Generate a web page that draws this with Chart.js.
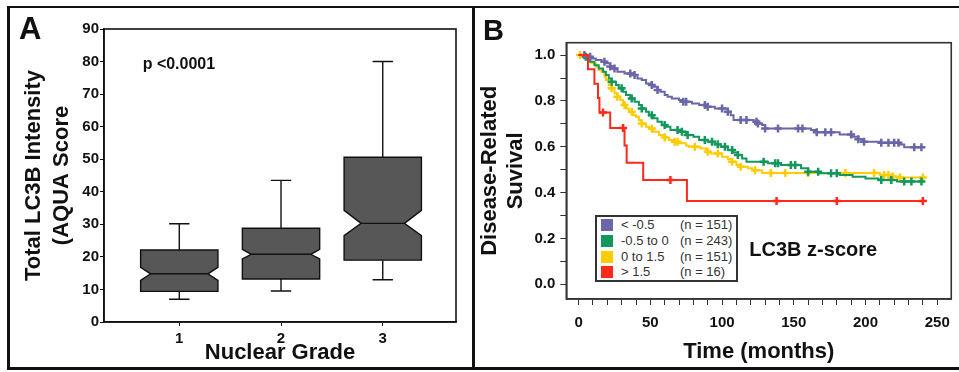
<!DOCTYPE html>
<html>
<head>
<meta charset="utf-8">
<script src="https://cdn.jsdelivr.net/npm/chart.js@4.4.1/dist/chart.umd.min.js"></script>
<style>
  html, body { margin: 0; padding: 0; background: #fff; }
  body { width: 959px; height: 372px; position: relative; overflow: hidden; font-family: "Liberation Sans", Arial, sans-serif; color: #111; }
  .frame { position: absolute; box-sizing: border-box; border: 0 solid #111; }
  #frameA { left: 7px; top: 6px; width: 468px; height: 364px; border-width: 2px 3px 3px 3px; }
  #frameB { left: 475px; top: 6px; width: 484px; height: 364px; border-width: 2px 0 3px 0; }
  canvas { position: absolute; }
  #chartA { left: 10px; top: 9px; }
  #chartB { left: 476px; top: 9px; }
  .letter { position: absolute; font-weight: bold; font-size: 29px; line-height: 1; }
  #legendB { position: absolute; left: 595px; top: 215px; width: 143px; height: 67px; box-sizing: border-box; border: 2px solid #333; background: #fff; }
  #legendB .row { position: relative; height: 15.75px; line-height: 15.75px; font-size: 13px; color: #333; white-space: nowrap; }
  #legendB .sw { position: absolute; left: 4px; top: 2px; width: 12px; height: 12px; }
  #legendB .lab { position: absolute; left: 24px; }
  #legendB .n { position: absolute; left: 83px; }
</style>
</head>
<body>
<div class="frame" id="frameA"></div>
<div class="frame" id="frameB"></div>
<canvas id="chartA" width="461" height="357"></canvas>
<canvas id="chartB" width="483" height="357"></canvas>
<div class="letter" style="left:19px; top:13px; font-size:31px;">A</div>
<div class="letter" style="left:483px; top:16px;">B</div>
<div id="legendB"></div>
<script>
const FONT = '"Liberation Sans", Arial, sans-serif';
const INK = '#111';

// ---- Panel A: total LC3B intensity by nuclear grade ----
const grades = [1, 2, 3];
const whiskerLow = [7, 9.5, 13];
const quartile1 = [9.4, 13.2, 19];
const notchLow = [12.8, 19.4, 26.5];
const medians = [14.8, 20.8, 30.3];
const notchHigh = [16.8, 22.3, 34.3];
const quartile3 = [22.1, 28.8, 50.6];
const whiskerHigh = [30.2, 43.5, 80];

// ---- Panel B: disease-related survival by LC3B z-score ----
const groupLabels = ['< -0.5', '-0.5 to 0', '0 to 1.5', '> 1.5'];
const groupCounts = [151, 243, 151, 16];
const groupColors = ['#6a67a8', '#13975c', '#ffcc00', '#ff2a1a'];

const lowTimes = [0, 5, 9, 12, 16, 19, 22, 24, 27, 32, 38, 41, 44, 47, 50, 52, 55, 57, 60, 62, 65, 70, 73, 79, 84, 90, 95, 104, 106, 108, 122, 125, 128, 130, 162, 165, 182, 191, 195, 198, 210, 224, 227, 240];
const lowSurv = [1, 0.993, 0.985, 0.978, 0.971, 0.964, 0.95, 0.942, 0.927, 0.92, 0.913, 0.898, 0.891, 0.876, 0.869, 0.862, 0.848, 0.84, 0.826, 0.818, 0.811, 0.804, 0.796, 0.789, 0.782, 0.775, 0.767, 0.753, 0.738, 0.717, 0.709, 0.702, 0.695, 0.68, 0.673, 0.663, 0.654, 0.644, 0.633, 0.622, 0.618, 0.61, 0.598, 0.598];
const lowCensor = [4, 8, 18, 22, 25, 36, 39, 51, 55, 73, 75, 88, 90, 100, 104, 113, 117, 124, 125, 130, 139, 153, 156, 166, 172, 176, 190, 195, 199, 211, 216, 220, 223, 234, 239];

const midTimes = [0, 3, 6, 8, 11, 14, 17, 19, 21, 23, 26, 28, 31, 33, 36, 39, 42, 44, 47, 49, 52, 55, 58, 61, 64, 70, 75, 80, 84, 90, 95, 99, 104, 108, 111, 114, 117, 132, 141, 155, 160, 168, 182, 191, 200, 209, 222, 240];
const midSurv = [1, 0.993, 0.985, 0.971, 0.956, 0.942, 0.927, 0.913, 0.898, 0.884, 0.869, 0.855, 0.84, 0.826, 0.811, 0.796, 0.782, 0.767, 0.753, 0.738, 0.724, 0.709, 0.695, 0.687, 0.673, 0.666, 0.651, 0.644, 0.63, 0.622, 0.611, 0.6, 0.586, 0.575, 0.564, 0.549, 0.535, 0.528, 0.52, 0.506, 0.491, 0.484, 0.477, 0.469, 0.462, 0.455, 0.448, 0.448];
const midCensor = [5, 23, 30, 37, 44, 51, 60, 69, 72, 76, 88, 93, 97, 102, 107, 111, 129, 137, 139, 148, 151, 160, 167, 176, 180, 211, 218, 227, 232, 239];

const highTimes = [0, 4, 7, 9, 12, 14, 16, 18, 19, 21, 23, 25, 27, 29, 31, 33, 35, 38, 40, 42, 44, 47, 49, 52, 56, 60, 63, 67, 70, 75, 77, 85, 89, 92, 100, 104, 107, 110, 112, 118, 121, 128, 210, 218, 222, 240];
const highSurv = [1, 0.985, 0.971, 0.964, 0.949, 0.935, 0.927, 0.905, 0.891, 0.869, 0.855, 0.833, 0.818, 0.804, 0.782, 0.767, 0.753, 0.738, 0.731, 0.716, 0.702, 0.687, 0.68, 0.666, 0.651, 0.64, 0.63, 0.622, 0.615, 0.604, 0.6, 0.593, 0.578, 0.571, 0.557, 0.546, 0.535, 0.52, 0.513, 0.506, 0.498, 0.486, 0.477, 0.47, 0.466, 0.466];
const highCensor = [1, 23, 27, 32, 37, 44, 51, 60, 67, 69, 81, 90, 97, 107, 113, 123, 134, 144, 160, 186, 206, 213, 216, 219, 224, 240];

const topTimes = [0, 6.5, 11, 13.5, 14.5, 22, 32, 33.5, 45, 75.5, 240];
const topSurv = [1, 0.938, 0.875, 0.813, 0.75, 0.682, 0.606, 0.53, 0.455, 0.364, 0.364];
const topCensor = [17, 31, 64, 138, 180, 240];

const timeTicks = [0, 10, 20, 30, 40, 50, 60, 70, 80, 90, 100, 110, 120, 130, 140, 150, 160, 170, 180, 190, 200, 210, 220, 230, 240, 250];
const survTicks = [0, 0.1, 0.2, 0.3, 0.4, 0.5, 0.6, 0.7, 0.8, 0.9, 1.0];

// box geometry, in x-axis units
const BOX_HALF = 0.38;
const CAP_HALF = 0.1;
const NOTCH_DEPTH = [0.26, 0.23, 0.44]; // fraction of half box width

const notchedBoxes = {
  id: 'notchedBoxes',
  beforeDatasetsDraw(chart) {
    const { ctx, scales: { x, y } } = chart;
    ctx.save();
    ctx.lineWidth = 1.4;
    ctx.strokeStyle = INK;
    grades.forEach((g, i) => {
      const cx = x.getPixelForValue(g);
      const left = x.getPixelForValue(g - BOX_HALF);
      const right = x.getPixelForValue(g + BOX_HALF);
      const capL = x.getPixelForValue(g - CAP_HALF);
      const capR = x.getPixelForValue(g + CAP_HALF);
      const inset = (right - left) / 2 * NOTCH_DEPTH[i];
      const yq1 = y.getPixelForValue(quartile1[i]);
      const yq3 = y.getPixelForValue(quartile3[i]);
      const ynl = y.getPixelForValue(notchLow[i]);
      const ynh = y.getPixelForValue(notchHigh[i]);
      const ymed = y.getPixelForValue(medians[i]);
      const ywl = y.getPixelForValue(whiskerLow[i]);
      const ywh = y.getPixelForValue(whiskerHigh[i]);

      ctx.beginPath();
      ctx.moveTo(cx, yq3); ctx.lineTo(cx, ywh);
      ctx.moveTo(capL, ywh); ctx.lineTo(capR, ywh);
      ctx.moveTo(cx, yq1); ctx.lineTo(cx, ywl);
      ctx.moveTo(capL, ywl); ctx.lineTo(capR, ywl);
      ctx.stroke();

      ctx.beginPath();
      ctx.moveTo(left, yq3);
      ctx.lineTo(right, yq3);
      ctx.lineTo(right, ynh);
      ctx.lineTo(right - inset, ymed);
      ctx.lineTo(right, ynl);
      ctx.lineTo(right, yq1);
      ctx.lineTo(left, yq1);
      ctx.lineTo(left, ynl);
      ctx.lineTo(left + inset, ymed);
      ctx.lineTo(left, ynh);
      ctx.closePath();
      ctx.fillStyle = '#575757';
      ctx.fill();
      ctx.stroke();

      ctx.beginPath();
      ctx.moveTo(left + inset, ymed);
      ctx.lineTo(right - inset, ymed);
      ctx.stroke();
    });
    ctx.restore();
  },
};

const plotFrame = {
  id: 'plotFrame',
  afterDraw(chart, args, opts) {
    const { ctx, chartArea: a } = chart;
    ctx.save();
    ctx.strokeStyle = opts.color;
    ctx.lineWidth = opts.width;
    ctx.strokeRect(a.left, a.top, a.right - a.left, a.bottom - a.top);
    ctx.restore();
  },
};

// free text placed in data units
const notes = {
  id: 'notes',
  afterDraw(chart, args, opts) {
    const { ctx, scales: { x, y } } = chart;
    ctx.save();
    ctx.fillStyle = INK;
    ctx.textAlign = 'left';
    ctx.textBaseline = 'middle';
    opts.items.forEach(n => {
      ctx.font = `bold ${n.size}px ${FONT}`;
      ctx.fillText(n.text, x.getPixelForValue(n.x), y.getPixelForValue(n.y));
    });
    ctx.restore();
  },
};

const tickFont = { family: FONT, size: 15, weight: 'bold' };

new Chart(document.getElementById('chartA'), {
  type: 'scatter',
  data: { datasets: [] },
  options: {
    responsive: false,
    animation: false,
    events: [],
    layout: { padding: { top: 20, right: 15, left: 0, bottom: 0 } },
    plugins: {
      legend: { display: false },
      tooltip: { enabled: false },
      plotFrame: { color: INK, width: 1.6 },
      notes: { items: [{ text: 'p <0.0001', x: 0.64, y: 79, size: 16 }] },
    },
    scales: {
      x: {
        type: 'linear',
        min: 0.26,
        max: 3.72,
        afterBuildTicks: s => { s.ticks = grades.map(v => ({ value: v })); },
        afterFit: s => { s.height = 44; },
        grid: { drawOnChartArea: false, tickLength: 4, color: INK },
        border: { color: INK, width: 1.6 },
        ticks: { font: tickFont, color: INK, padding: 4, autoSkip: false, maxRotation: 0 },
        title: { display: true, text: 'Nuclear Grade', color: INK, font: { family: FONT, size: 22, weight: 'bold' }, padding: { top: 0, bottom: 0 } },
      },
      y: {
        min: 0,
        max: 90,
        afterFit: s => { s.width = 94; },
        grid: { drawOnChartArea: false, tickLength: 4, color: INK },
        border: { color: INK, width: 1.6 },
        ticks: { stepSize: 10, font: tickFont, color: INK, padding: 1 },
        title: { display: true, text: ['Total LC3B Intensity', '(AQUA Score'], color: INK, font: { family: FONT, size: 22, weight: 'bold', lineHeight: '28px' }, padding: { top: 10, bottom: 0 } },
      },
    },
  },
  plugins: [notchedBoxes, plotFrame, notes],
});

function survAt(times, surv, t) {
  let s = surv[0];
  times.forEach((tt, i) => { if (tt <= t) s = surv[i]; });
  return s;
}

const groups = [
  { times: lowTimes, surv: lowSurv, censor: lowCensor },
  { times: midTimes, surv: midSurv, censor: midCensor },
  { times: highTimes, surv: highSurv, censor: highCensor },
  { times: topTimes, surv: topSurv, censor: topCensor },
];

const kmDatasets = [];
// red first so it ends up drawn on top, then blue, green, yellow
[3, 0, 1, 2].forEach(gi => {
  const g = groups[gi];
  const color = groupColors[gi];
  kmDatasets.push({
    label: groupLabels[gi],
    data: g.times.map((t, i) => ({ x: t, y: g.surv[i] })),
    stepped: 'before',
    borderColor: color,
    borderWidth: 2,
    pointRadius: 0,
    fill: false,
  });
  kmDatasets.push({
    label: groupLabels[gi] + ' censored',
    data: g.censor.map(t => ({ x: t, y: survAt(g.times, g.surv, t) })),
    showLine: false,
    pointStyle: 'cross',
    pointRadius: 4,
    borderWidth: 2.5,
    borderColor: color,
    backgroundColor: color,
  });
});

new Chart(document.getElementById('chartB'), {
  type: 'line',
  data: { datasets: kmDatasets },
  options: {
    responsive: false,
    animation: false,
    events: [],
    layout: { padding: { top: 33.7, right: 7.7, left: 0, bottom: 0 } },
    plugins: {
      legend: { display: false },
      tooltip: { enabled: false },
      plotFrame: { color: '#333', width: 1.6 },
      notes: { items: [{ text: 'LC3B z-score', x: 119, y: 0.147, size: 20 }] },
    },
    scales: {
      x: {
        type: 'linear',
        min: -8.6,
        max: 259.8,
        afterBuildTicks: s => { s.ticks = timeTicks.map(v => ({ value: v })); },
        afterFit: s => { s.height = 67; },
        grid: { drawOnChartArea: false, tickLength: 6, color: '#333' },
        border: { color: '#333', width: 1.6 },
        ticks: {
          font: tickFont, color: INK, padding: 9, autoSkip: false, maxRotation: 0,
          callback: v => (v % 50 === 0 ? String(v) : ''),
        },
        title: { display: true, text: 'Time (months)', color: INK, font: { family: FONT, size: 22, weight: 'bold' }, padding: { top: 0, bottom: 1 } },
      },
      y: {
        min: -0.064,
        max: 1.054,
        afterBuildTicks: s => { s.ticks = survTicks.map(v => ({ value: v })); },
        afterFit: s => { s.width = 90.3; },
        grid: { drawOnChartArea: false, tickLength: 6, color: '#333' },
        border: { color: '#333', width: 1.6 },
        ticks: {
          font: tickFont, color: INK, padding: 5, autoSkip: false,
          callback: v => (Math.abs(v * 5 - Math.round(v * 5)) < 1e-6 ? v.toFixed(1) : ''),
        },
        title: { display: true, text: ['Disease-Related', 'Suvival'], color: INK, font: { family: FONT, size: 22, weight: 'bold', lineHeight: '26px' }, padding: { top: 0.5, bottom: 0 } },
      },
    },
  },
  plugins: [plotFrame, notes],
});

// legend box for panel B
const legendEl = document.getElementById('legendB');
groupLabels.forEach((lab, i) => {
  const row = document.createElement('div');
  row.className = 'row';
  row.innerHTML = `<span class="sw" style="background:${groupColors[i]}"></span><span class="lab"></span><span class="n"></span>`;
  row.querySelector('.lab').textContent = lab;
  row.querySelector('.n').textContent = `(n = ${groupCounts[i]})`;
  legendEl.appendChild(row);
});
</script>
</body>
</html>
